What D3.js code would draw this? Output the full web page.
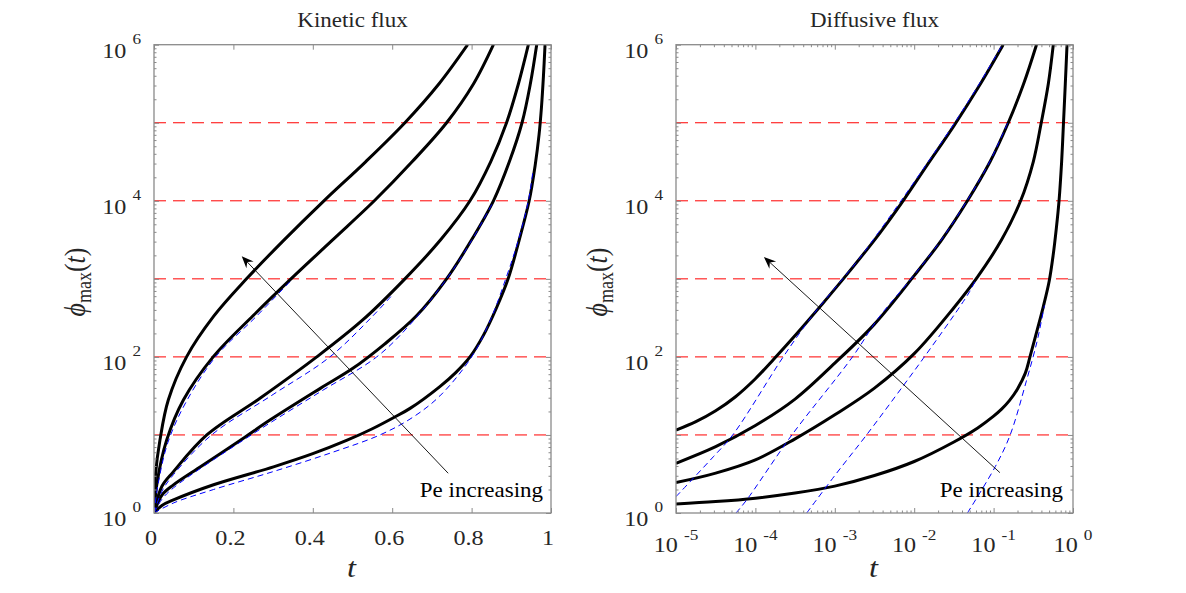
<!DOCTYPE html>
<html>
<head>
<meta charset="utf-8">
<script src="https://cdn.jsdelivr.net/npm/d3@7"></script>
<style>
  body { margin: 0; background: #fff; }
  svg { font-family: "Liberation Serif", "Times New Roman", serif; }
</style>
</head>
<body>
<svg id="chart" width="1186" height="593"></svg>
<script>
// ---- data ------------------------------------------------------------

// Kinetic flux panel (linear t)
var kinT1 = [0, 0.004, 0.015, 0.036, 0.082, 0.15, 0.233, 0.326, 0.428, 0.533, 0.632, 0.718, 0.79];
var kinPhi1 = [1, 3.2, 8.6, 28, 100, 330, 1000, 3090, 1e4, 31600, 1e5, 316000, 1e6];
var kinT2 = [0, 0.008, 0.032, 0.074, 0.149, 0.25, 0.345, 0.45, 0.555, 0.65, 0.737, 0.805, 0.855];
var kinPhi2 = [1, 2.5, 8.6, 28, 100, 339, 1000, 3160, 1e4, 31600, 1e5, 316000, 1e6];
var kinT3 = [0, 0.02, 0.049, 0.133, 0.267, 0.41, 0.525, 0.632, 0.722, 0.796, 0.848, 0.888, 0.918, 0.943];
var kinPhi3 = [1, 2.2, 3.39, 10, 29.5, 100, 295, 1000, 3162, 1e4, 31600, 1e5, 316000, 1e6];
var kinT4 = [0, 0.02, 0.049, 0.12, 0.228, 0.292, 0.42, 0.5, 0.58, 0.66, 0.737, 0.8, 0.855, 0.895, 0.927, 0.948, 0.964];
var kinPhi4 = [1, 1.7, 2.29, 4.0, 9.3, 15.5, 39.8, 70.8, 145, 331, 1000, 3162, 1e4, 31600, 1e5, 316000, 1e6];
var kinT5 = [0, 0.02, 0.049, 0.15, 0.301, 0.4, 0.485, 0.55, 0.603, 0.645, 0.72, 0.76, 0.796, 0.83, 0.862, 0.892, 0.92, 0.945, 0.96, 0.97, 0.976, 0.981, 0.985];
var kinPhi5 = [1, 1.25, 1.47, 2.3, 3.9, 5.75, 8.5, 12, 16.6, 21.9, 41.7, 63, 100, 190, 417, 1000, 3162, 1e4, 28200, 70800, 158000, 398000, 1e6];

var kinFitT2 = [0, 0.01, 0.035, 0.08, 0.155, 0.255, 0.345];
var kinFitPhi2 = [1, 2.3, 8, 26, 100, 320, 950];
var kinFitT3 = [0, 0.02, 0.049, 0.145, 0.3, 0.443, 0.55, 0.6];
var kinFitPhi3 = [1, 1.9, 3.1, 10, 33, 100, 330, 620];
var kinFitT4 = [0, 0.02, 0.049, 0.245, 0.42, 0.561, 0.645, 0.737, 0.8, 0.855];
var kinFitPhi4 = [1, 1.5, 2.1, 10, 36, 100, 260, 1000, 3100, 9800];
var kinFitT5 = [0, 0.05, 0.15, 0.3, 0.45, 0.569, 0.65, 0.72, 0.8, 0.848, 0.886, 0.918, 0.943, 0.955];
var kinFitPhi5 = [1, 1.35, 2.0, 3.39, 6, 10, 16.6, 31.6, 100, 302, 1000, 3162, 1e4, 25100];

// Diffusive flux panel (log t)
var difT1 = [1e-5, 1.78e-5, 3.16e-5, 5.62e-5, 1e-4, 1.70e-4, 3.98e-4, 1.28e-3, 3.71e-3, 6.92e-3, 0.0144, 0.0316, 0.0675, 0.132];
var difPhi1 = [11.5, 14.8, 20.4, 30.9, 52.5, 93.3, 245, 1000, 3890, 9330, 28200, 91200, 309000, 1e6];
var difT2 = [1e-5, 3.16e-5, 1e-4, 3.16e-4, 1e-3, 3.16e-3, 0.01, 0.0222, 0.0468, 0.0902, 0.153, 0.239, 0.347];
var difPhi2 = [4.34, 7.08, 13.2, 28.8, 83.2, 263, 1100, 3160, 1e4, 31600, 1e5, 316000, 1e6];
var difT3 = [1e-5, 3.16e-5, 1e-4, 3.16e-4, 1e-3, 3.16e-3, 0.01, 0.0316, 0.0603, 0.126, 0.219, 0.316, 0.398, 0.489, 0.565];
var difPhi3 = [2.45, 3.24, 4.79, 8.91, 18.1, 39.8, 110, 427, 1000, 3160, 1e4, 31600, 1e5, 316000, 1e6];
var difT4 = [1e-5, 3.16e-5, 1e-4, 3.16e-4, 1e-3, 3.16e-3, 0.01, 0.0316, 0.0631, 0.1, 0.126, 0.158, 0.2, 0.251, 0.287, 0.355, 0.423, 0.501, 0.562, 0.617, 0.667, 0.719, 0.759, 0.8, 0.841];
var difPhi4 = [1.30, 1.40, 1.55, 1.80, 2.21, 3.02, 4.57, 8.13, 12.3, 17.4, 21.4, 27.5, 38.9, 62, 100, 224, 442, 933, 2000, 4470, 1e4, 31600, 1e5, 316000, 1e6];

var difFitT1 = [1e-5, 2.95e-5, 5.18e-5, 2.24e-4, 5.12e-4, 1e-3, 2.0e-3, 3.55e-3, 6.61e-3, 0.0141, 0.0309, 0.0661, 0.129];
var difFitPhi1 = [1.62, 5.25, 10, 100, 329, 759, 1780, 3930, 9550, 28800, 93300, 316000, 1e6];
var difFitT2 = [5.70e-5, 7.76e-5, 2.88e-4, 1.67e-3, 3.53e-3, 9.12e-3, 0.0219, 0.0462, 0.0891, 0.151];
var difFitPhi2 = [1, 1.47, 10, 100, 313, 1000, 3160, 1e4, 31600, 1e5];
var difFitT3 = [4.43e-4, 1e-3, 2.51e-3, 7.28e-3, 0.0130, 0.0374, 0.0501, 0.0603];
var difFitPhi3 = [1, 3.02, 10, 42.7, 95.5, 437, 692, 1000];
var difFitT4 = [0.0468, 0.105, 0.161, 0.261, 0.349, 0.398, 0.437];
var difFitPhi4 = [1, 3.93, 9.9, 50.7, 151, 282, 457];

// horizontal reference levels and tick labels
var refLevels = [10, 100, 1000, 1e4, 1e5];
var yLabelValues = [1, 100, 1e4, 1e6];
var kinTickValues = [0, 0.2, 0.4, 0.6, 0.8, 1];
var kinTickLabels = ['0', '0.2', '0.4', '0.6', '0.8', '1'];
var difTickValues = [1e-5, 1e-4, 1e-3, 1e-2, 1e-1, 1];
var difTickExps = ['-5', '-4', '-3', '-2', '-1', '0'];

// "Pe increasing" arrows: [tail, head] in data coordinates
var kinArrow = [[0.741, 3.23], [0.221, 1950]];
var difArrow = [[0.12, 3.29], [1.28e-4, 1905]];
var kinNote = [0.98, 1.6];
var difNote = [0.748, 1.6];

// ---- drawing ---------------------------------------------------------

var svg = d3.select('#chart');
var defs = svg.append('defs');
var axisColor = '#8a8a8a';
var textColor = '#262626';
var stretch = 1.15;  // glyphs in the reference are a bit wide

var plotTop = 44.7, plotBottom = 513;

var y = d3.scaleLog().domain([1, 1e6]).range([plotBottom, plotTop]);

var panels = [
    {
        id: 'kin', left: 154, right: 551, title: 'Kinetic flux',
        x: d3.scaleLinear().domain([0, 1]).range([154, 551]),
        black: [[kinT1, kinPhi1], [kinT2, kinPhi2], [kinT3, kinPhi3], [kinT4, kinPhi4], [kinT5, kinPhi5]],
        blue: [[kinFitT2, kinFitPhi2], [kinFitT3, kinFitPhi3], [kinFitT4, kinFitPhi4], [kinFitT5, kinFitPhi5]],
        arrow: kinArrow, note: kinNote
    },
    {
        id: 'dif', left: 676, right: 1073, title: 'Diffusive flux',
        x: d3.scaleLog().domain([1e-5, 1]).range([676, 1073]),
        black: [[difT1, difPhi1], [difT2, difPhi2], [difT3, difPhi3], [difT4, difPhi4]],
        blue: [[difFitT1, difFitPhi1], [difFitT2, difFitPhi2], [difFitT3, difFitPhi3], [difFitT4, difFitPhi4]],
        arrow: difArrow, note: difNote
    }
];

function logMinors(lo, hi) {
    var out = [];
    for (var e = lo; e < hi; e++) {
        for (var m = 2; m <= 9; m++) out.push(m * Math.pow(10, e));
    }
    return out;
}

function wideText(sel, px, py) {
    return sel.append('text')
        .attr('transform', 'translate(' + px + ',' + py + ') scale(' + stretch + ',1)')
        .attr('fill', textColor);
}

function styleTicks(g) {
    g.select('.domain').remove();
    g.selectAll('line').attr('stroke', axisColor).attr('stroke-width', 1);
}

function drawPanel(p) {
    var x = p.x;
    var g = svg.append('g').attr('class', 'panel-' + p.id);

    defs.append('clipPath').attr('id', 'clip-' + p.id)
        .append('rect')
        .attr('x', p.left).attr('y', plotTop)
        .attr('width', p.right - p.left).attr('height', plotBottom - plotTop);

    var plot = g.append('g').attr('clip-path', 'url(#clip-' + p.id + ')');

    plot.selectAll('line.ref')
        .data(refLevels)
        .enter().append('line')
        .attr('class', 'ref')
        .attr('x1', p.left).attr('x2', p.right)
        .attr('y1', function (d) { return y(d); })
        .attr('y2', function (d) { return y(d); })
        .attr('stroke', '#ff0000')
        .attr('stroke-width', 1)
        .attr('stroke-dasharray', '12,7');

    var line = d3.line()
        .x(function (d) { return x(d[0]); })
        .y(function (d) { return y(d[1]); })
        .curve(d3.curveCatmullRom.alpha(0.5));

    plot.selectAll('path.sol')
        .data(p.black)
        .enter().append('path')
        .attr('class', 'sol')
        .attr('d', function (s) { return line(d3.zip(s[0], s[1])); })
        .attr('fill', 'none')
        .attr('stroke', '#000')
        .attr('stroke-width', 3);

    plot.selectAll('path.fit')
        .data(p.blue)
        .enter().append('path')
        .attr('class', 'fit')
        .attr('d', function (s) { return line(d3.zip(s[0], s[1])); })
        .attr('fill', 'none')
        .attr('stroke', '#0000ff')
        .attr('stroke-width', 1)
        .attr('stroke-dasharray', '6,4');

    // arrow
    var x0 = x(p.arrow[0][0]), y0 = y(p.arrow[0][1]);
    var x1 = x(p.arrow[1][0]), y1 = y(p.arrow[1][1]);
    var ang = Math.atan2(y1 - y0, x1 - x0);
    var hl = 12, hw = 5, notch = 8;
    function pt(along, across) {
        return [x1 - along * Math.cos(ang) - across * Math.sin(ang),
                y1 - along * Math.sin(ang) + across * Math.cos(ang)];
    }
    var back = pt(notch, 0);
    g.append('line')
        .attr('x1', x0).attr('y1', y0).attr('x2', back[0]).attr('y2', back[1])
        .attr('stroke', '#000').attr('stroke-width', 0.9);
    g.append('path')
        .attr('d', 'M' + [x1, y1] + 'L' + pt(hl, hw) + 'L' + back + 'L' + pt(hl, -hw) + 'Z')
        .attr('fill', '#000');

    wideText(g, x(p.note[0]), y(p.note[1]))
        .attr('text-anchor', 'end')
        .attr('font-size', 20)
        .attr('fill', '#000')
        .text('Pe increasing');

    // ticks (inward, all four sides)
    var xMajor = p.id === 'kin' ? kinTickValues : difTickValues;
    var xMinor = p.id === 'kin' ? [] : logMinors(-5, 0);
    var yMajor = [1, 10, 100, 1000, 1e4, 1e5, 1e6];
    var yMinor = logMinors(0, 6);

    [[d3.axisBottom(x), plotBottom], [d3.axisTop(x), plotTop]].forEach(function (a) {
        g.append('g').attr('transform', 'translate(0,' + a[1] + ')')
            .call(a[0].tickValues(xMajor).tickSizeInner(-5).tickSizeOuter(0).tickFormat(''))
            .call(styleTicks);
        if (xMinor.length) {
            g.append('g').attr('transform', 'translate(0,' + a[1] + ')')
                .call(a[0].tickValues(xMinor).tickSizeInner(-2.5).tickSizeOuter(0).tickFormat(''))
                .call(styleTicks);
        }
    });
    [[d3.axisLeft(y), p.left], [d3.axisRight(y), p.right]].forEach(function (a) {
        g.append('g').attr('transform', 'translate(' + a[1] + ',0)')
            .call(a[0].tickValues(yMajor).tickSizeInner(-5).tickSizeOuter(0).tickFormat(''))
            .call(styleTicks);
        g.append('g').attr('transform', 'translate(' + a[1] + ',0)')
            .call(a[0].tickValues(yMinor).tickSizeInner(-2.5).tickSizeOuter(0).tickFormat(''))
            .call(styleTicks);
    });

    g.append('rect')
        .attr('x', p.left).attr('y', plotTop)
        .attr('width', p.right - p.left).attr('height', plotBottom - plotTop)
        .attr('fill', 'none')
        .attr('stroke', axisColor)
        .attr('stroke-width', 1.3);

    // y tick labels: 10^k
    yLabelValues.forEach(function (v) {
        var t = wideText(g, p.left - 13, y(v))
            .attr('text-anchor', 'end');
        t.append('tspan').attr('font-size', 21).attr('dy', 13).text('10 ');
        t.append('tspan').attr('font-size', 15).attr('dy', -14).text(Math.round(Math.log10(v)));
    });

    // x tick labels
    if (p.id === 'kin') {
        kinTickValues.forEach(function (v, i) {
            wideText(g, x(v) - 3, 545)
                .attr('text-anchor', 'middle')
                .attr('font-size', 21)
                .text(kinTickLabels[i]);
        });
    } else {
        difTickValues.forEach(function (v, i) {
            var t = wideText(g, x(v), 551.5).attr('text-anchor', 'middle');
            t.append('tspan').attr('font-size', 21).text('10 ');
            t.append('tspan').attr('font-size', 15).attr('dy', -12).text(difTickExps[i]);
        });
    }

    // title
    wideText(g, (p.left + p.right) / 2, 27)
        .attr('text-anchor', 'middle')
        .attr('font-size', 20)
        .text(p.title);

    // axis labels
    wideText(g, (p.left + p.right) / 2 - 1, 577)
        .attr('text-anchor', 'middle')
        .attr('font-size', 28)
        .attr('font-style', 'italic')
        .text('t');

    var yl = g.append('text')
        .attr('transform', 'translate(' + (p.left - 69) + ',282) scale(' + stretch + ',1) rotate(-90)')
        .attr('text-anchor', 'middle')
        .attr('fill', textColor)
        .attr('font-size', 26);
    yl.append('tspan').attr('font-style', 'italic').text('\u03D5');
    yl.append('tspan').attr('font-size', 18).attr('dy', 5).text('max');
    yl.append('tspan').attr('dy', -5).text('(');
    yl.append('tspan').attr('font-style', 'italic').text('t');
    yl.append('tspan').text(')');
}

panels.forEach(drawPanel);
</script>
</body>
</html>
